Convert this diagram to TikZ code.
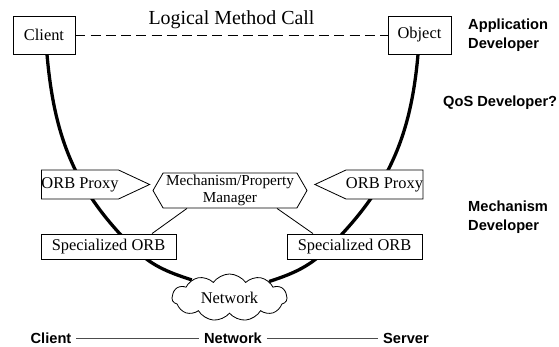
\documentclass[tikz,border=0pt]{standalone}
\usepackage{fontspec}
\setmainfont{Liberation Serif}
\newfontfamily\rolefont{Liberation Sans}
\usepackage{tikz}
\usetikzlibrary{shapes.symbols}
\usetikzlibrary{calc,backgrounds,positioning}

\tikzset{
  box/.style={draw, fill=white, line width=0.7pt, inner sep=0pt,
    font=\fontsize{14}{16}\selectfont},
  proxy/.style={box, shape=signal, signal pointer angle=50,
    minimum width=2.88cm, minimum height=0.87cm},
  wire/.style={line width=2.8pt},
  role/.style={font=\rolefont\bfseries\fontsize{12.5}{16}\selectfont,
    align=left, inner sep=0pt},
}

\begin{document}
\begin{tikzpicture}[x=0.03cm, y=-0.03cm]
        \useasboundingbox (0,0) rectangle (559,347);

        % application level
        \node[box, minimum width=1.86cm, minimum height=1.14cm] (client) at (44,35) {Client};
        \node[box, minimum width=1.89cm, minimum height=1.14cm] (object) at (419.5,35) {Object};
        \draw[dash pattern=on 8.5pt off 4.5pt, line width=0.7pt] (client) -- node[above=5pt, inner sep=0pt, font=\fontsize{17}{20}\selectfont] (call) {Logical Method Call} (object);

        % proxies and manager
        \node[proxy, signal to=east] (lproxy) at (80,184.5) {ORB Proxy};
        \node[proxy, signal to=west] (rproxy) at (384.5,184.5) {ORB Proxy};
        \node[box, shape=signal, signal to=west and east, signal pointer angle=120,
          minimum width=4.62cm, minimum height=1.05cm, align=center,
          font=\fontsize{13}{14.5}\selectfont] (mgr) at (230,190.5) {Mechanism/Property\\Manager};

        % specialized ORBs and network
        \node[box, minimum width=4.05cm, minimum height=0.75cm] (lorb) at (108.5,246.5) {Specialized ORB};
        \node[box, minimum width=4.05cm, minimum height=0.75cm] (rorb) at (354.5,246.5) {Specialized ORB};
        \node[box, shape=cloud, cloud puffs=11, cloud puff arc=110, aspect=2.5,
          minimum width=3.45cm, minimum height=1.41cm] (net) at (229.5,297.5) {Network};

        \draw[line width=0.7pt] ($(mgr.south)+(-43,0)$) -- ($(lorb.north)+(43.5,0)$);
        \draw[line width=0.7pt] ($(mgr.south)+(47,0)$) -- ($(rorb.north)+(-41.5,0)$);

        \begin{scope}[on background layer]
        \draw[wire] ($(client.south)+(3,0)$) to[out=-85,in=135] ($(lorb.center)+(23.5,0)$);
        \draw[wire] ($(lorb.center)+(23.5,0)$) to[out=-45,in=162] (net.155);
        \draw[wire] ($(object.south)+(-1.5,0)$) to[out=-95,in=45] ($(rorb.center)+(-24.5,0)$);
        \draw[wire] ($(rorb.center)+(-24.5,0)$) to[out=-135,in=18] (net.22);
        \end{scope}

        % who works where
        \node[role, anchor=west] (appdev) at (468,35) {Application\\Developer};
        \node[role, anchor=west] (qosdev) at (443,103) {QoS Developer?};
        \node[role, anchor=west] (mechdev) at (468,217.5) {Mechanism\\Developer};

        \node[role, inner xsep=4pt] (clientlbl) at (51,338) {Client};
        \node[role, inner xsep=4pt] (netlbl) at (233,338) {Network};
        \node[role, inner xsep=4pt] (serverlbl) at (406,338) {Server};
        \draw[line width=0.5pt, black!70] (clientlbl) -- (netlbl);
        \draw[line width=0.5pt, black!70] (netlbl) -- (serverlbl);
    \end{tikzpicture}
\end{document}
